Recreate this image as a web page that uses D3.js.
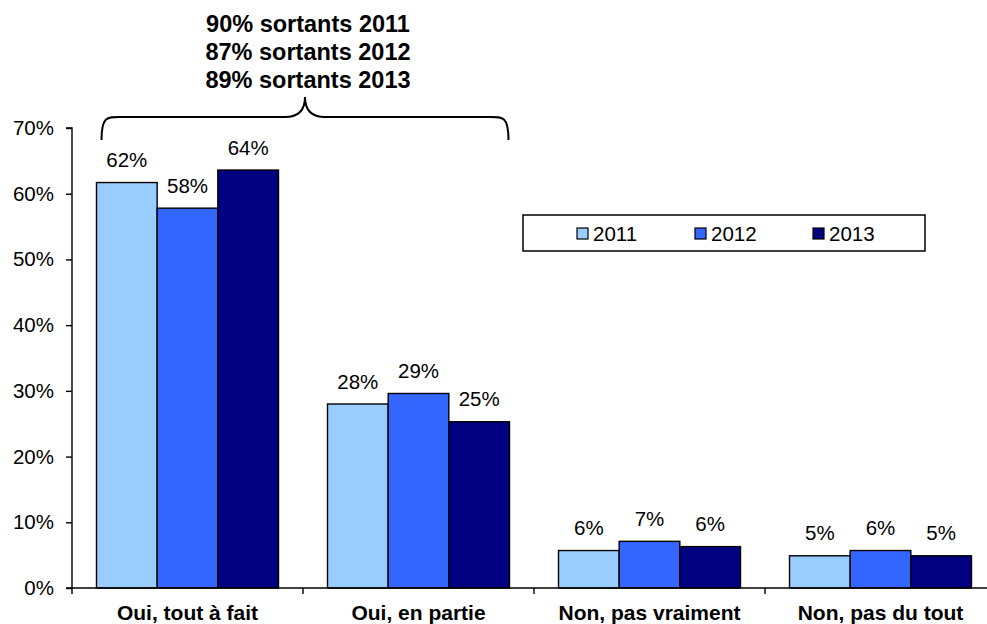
<!DOCTYPE html>
<html><head><meta charset="utf-8">
<script src="https://cdn.jsdelivr.net/npm/d3@7"></script>
<style>
html,body{margin:0;padding:0;background:#fff;}
svg{display:block;font-family:"Liberation Sans",Arial,sans-serif;}
</style></head>
<body>
<svg id="chart" width="987" height="624"></svg>
<script>
const categories = ["Oui, tout à fait", "Oui, en partie", "Non, pas vraiment", "Non, pas du tout"];
const seriesNames = ["2011", "2012", "2013"];
const values2011 = [0.617, 0.280, 0.057, 0.049];
const values2012 = [0.578, 0.296, 0.071, 0.057];
const values2013 = [0.636, 0.253, 0.063, 0.049];
const labels2011 = ["62%", "28%", "6%", "5%"];
const labels2012 = ["58%", "29%", "7%", "6%"];
const labels2013 = ["64%", "25%", "6%", "5%"];
const yTicks = [0, 0.1, 0.2, 0.3, 0.4, 0.5, 0.6, 0.7];
const titleLines = ["90% sortants 2011", "87% sortants 2012", "89% sortants 2013"];
const colors = ["#99CCFF", "#3366FF", "#000080"];

(function () {
const seriesValues = [values2011, values2012, values2013];
const seriesLabels = [labels2011, labels2012, labels2013];

const svg = d3.select("#chart");
const pL = 72, pR = 996, pT = 128, pB = 588;

const x = d3.scaleBand().domain(categories).range([pL, pR]).padding(0);
const xi = d3.scaleBand().domain(seriesNames).range([24.5, x.bandwidth() - 24.5]).padding(0);
const y = d3.scaleLinear().domain([0, 0.7]).range([pB, pT]);

// bars
const g = svg.append("g");
seriesNames.forEach((s, si) => {
  categories.forEach((c, ci) => {
    const v = seriesValues[si][ci];
    const bx = x(c) + xi(s);
    g.append("rect")
      .attr("x", bx).attr("y", y(v))
      .attr("width", xi.bandwidth()).attr("height", y(0) - y(v))
      .attr("fill", colors[si]).attr("stroke", "#000").attr("stroke-width", 1.4);
    g.append("text")
      .attr("x", bx + xi.bandwidth() / 2).attr("y", y(v) - 15.5)
      .attr("text-anchor", "middle").attr("font-size", 20.5).attr("fill", "#000")
      .text(seriesLabels[si][ci]);
  });
});

// y axis
const yAxis = d3.axisLeft(y).tickValues(yTicks).tickFormat(d3.format(".0%")).tickSize(6).tickPadding(12);
const ya = svg.append("g").attr("transform", `translate(${pL},0)`).call(yAxis);
ya.selectAll("text").attr("font-size", 20.5).attr("fill", "#000").attr("font-family", "Liberation Sans, Arial, sans-serif");
ya.selectAll("line,path").attr("stroke", "#000").attr("stroke-width", 1.4);
ya.select(".domain").attr("d", `M-6,${pT}H0V${pB}H-6`);

// x axis
const xa = svg.append("g").attr("transform", `translate(0,${pB})`);
xa.append("line").attr("x1", pL).attr("x2", pR).attr("y1", 0).attr("y2", 0)
  .attr("stroke", "#000").attr("stroke-width", 1.4);
const bounds = categories.map(c => x(c)).concat([x(categories[categories.length - 1]) + x.bandwidth()]);
bounds.forEach(b => {
  xa.append("line").attr("x1", b).attr("x2", b).attr("y1", 0).attr("y2", 6)
    .attr("stroke", "#000").attr("stroke-width", 1.4);
});
categories.forEach(c => {
  xa.append("text").attr("x", x(c) + x.bandwidth() / 2).attr("y", 32)
    .attr("text-anchor", "middle").attr("font-size", 21).attr("font-weight", "bold")
    .attr("fill", "#000").text(c);
});

// brace over first two categories
const bx0 = x(categories[0]) + xi(seriesNames[0]) + 5;
const bx1 = x(categories[1]) + xi(seriesNames[2]) + xi.bandwidth() - 1;
const bmid = (bx0 + bx1) / 2;
const yEnd = pT + 12, yLine = pT - 11, yTip = pT - 31, r = 22;
const bracePath = `M${bx0},${yEnd} C${bx0},${yLine - 2} ${bx0 + 6},${yLine} ${bx0 + r},${yLine}
  H${bmid - 20} C${bmid - 8},${yLine} ${bmid},${yLine - 6} ${bmid},${yTip}
  C${bmid},${yLine - 6} ${bmid + 8},${yLine} ${bmid + 20},${yLine}
  H${bx1 - r} C${bx1 - 6},${yLine} ${bx1},${yLine - 2} ${bx1},${yEnd}`;
svg.append("path").attr("d", bracePath).attr("fill", "none").attr("stroke", "#000").attr("stroke-width", 2);

// title
titleLines.forEach((t, i) => {
  svg.append("text").attr("x", bmid + 3).attr("y", 31.5 + i * 28)
    .attr("text-anchor", "middle").attr("font-size", 23.5).attr("font-weight", "bold")
    .attr("fill", "#000").text(t);
});

// legend
const lg = svg.append("g").attr("transform", "translate(523,215)");
lg.append("rect").attr("x", 0).attr("y", 0).attr("width", 402).attr("height", 36)
  .attr("fill", "#fff").attr("stroke", "#000").attr("stroke-width", 1.5);
const legX = [54, 172, 290];
seriesNames.forEach((s, i) => {
  lg.append("rect").attr("x", legX[i]).attr("y", 13).attr("width", 11).attr("height", 11)
    .attr("fill", colors[i]).attr("stroke", "#000").attr("stroke-width", 1.2);
  lg.append("text").attr("x", legX[i] + 16).attr("y", 25.5)
    .attr("font-size", 20.5).attr("fill", "#000").text(s);
});
})();
</script>
</body></html>
